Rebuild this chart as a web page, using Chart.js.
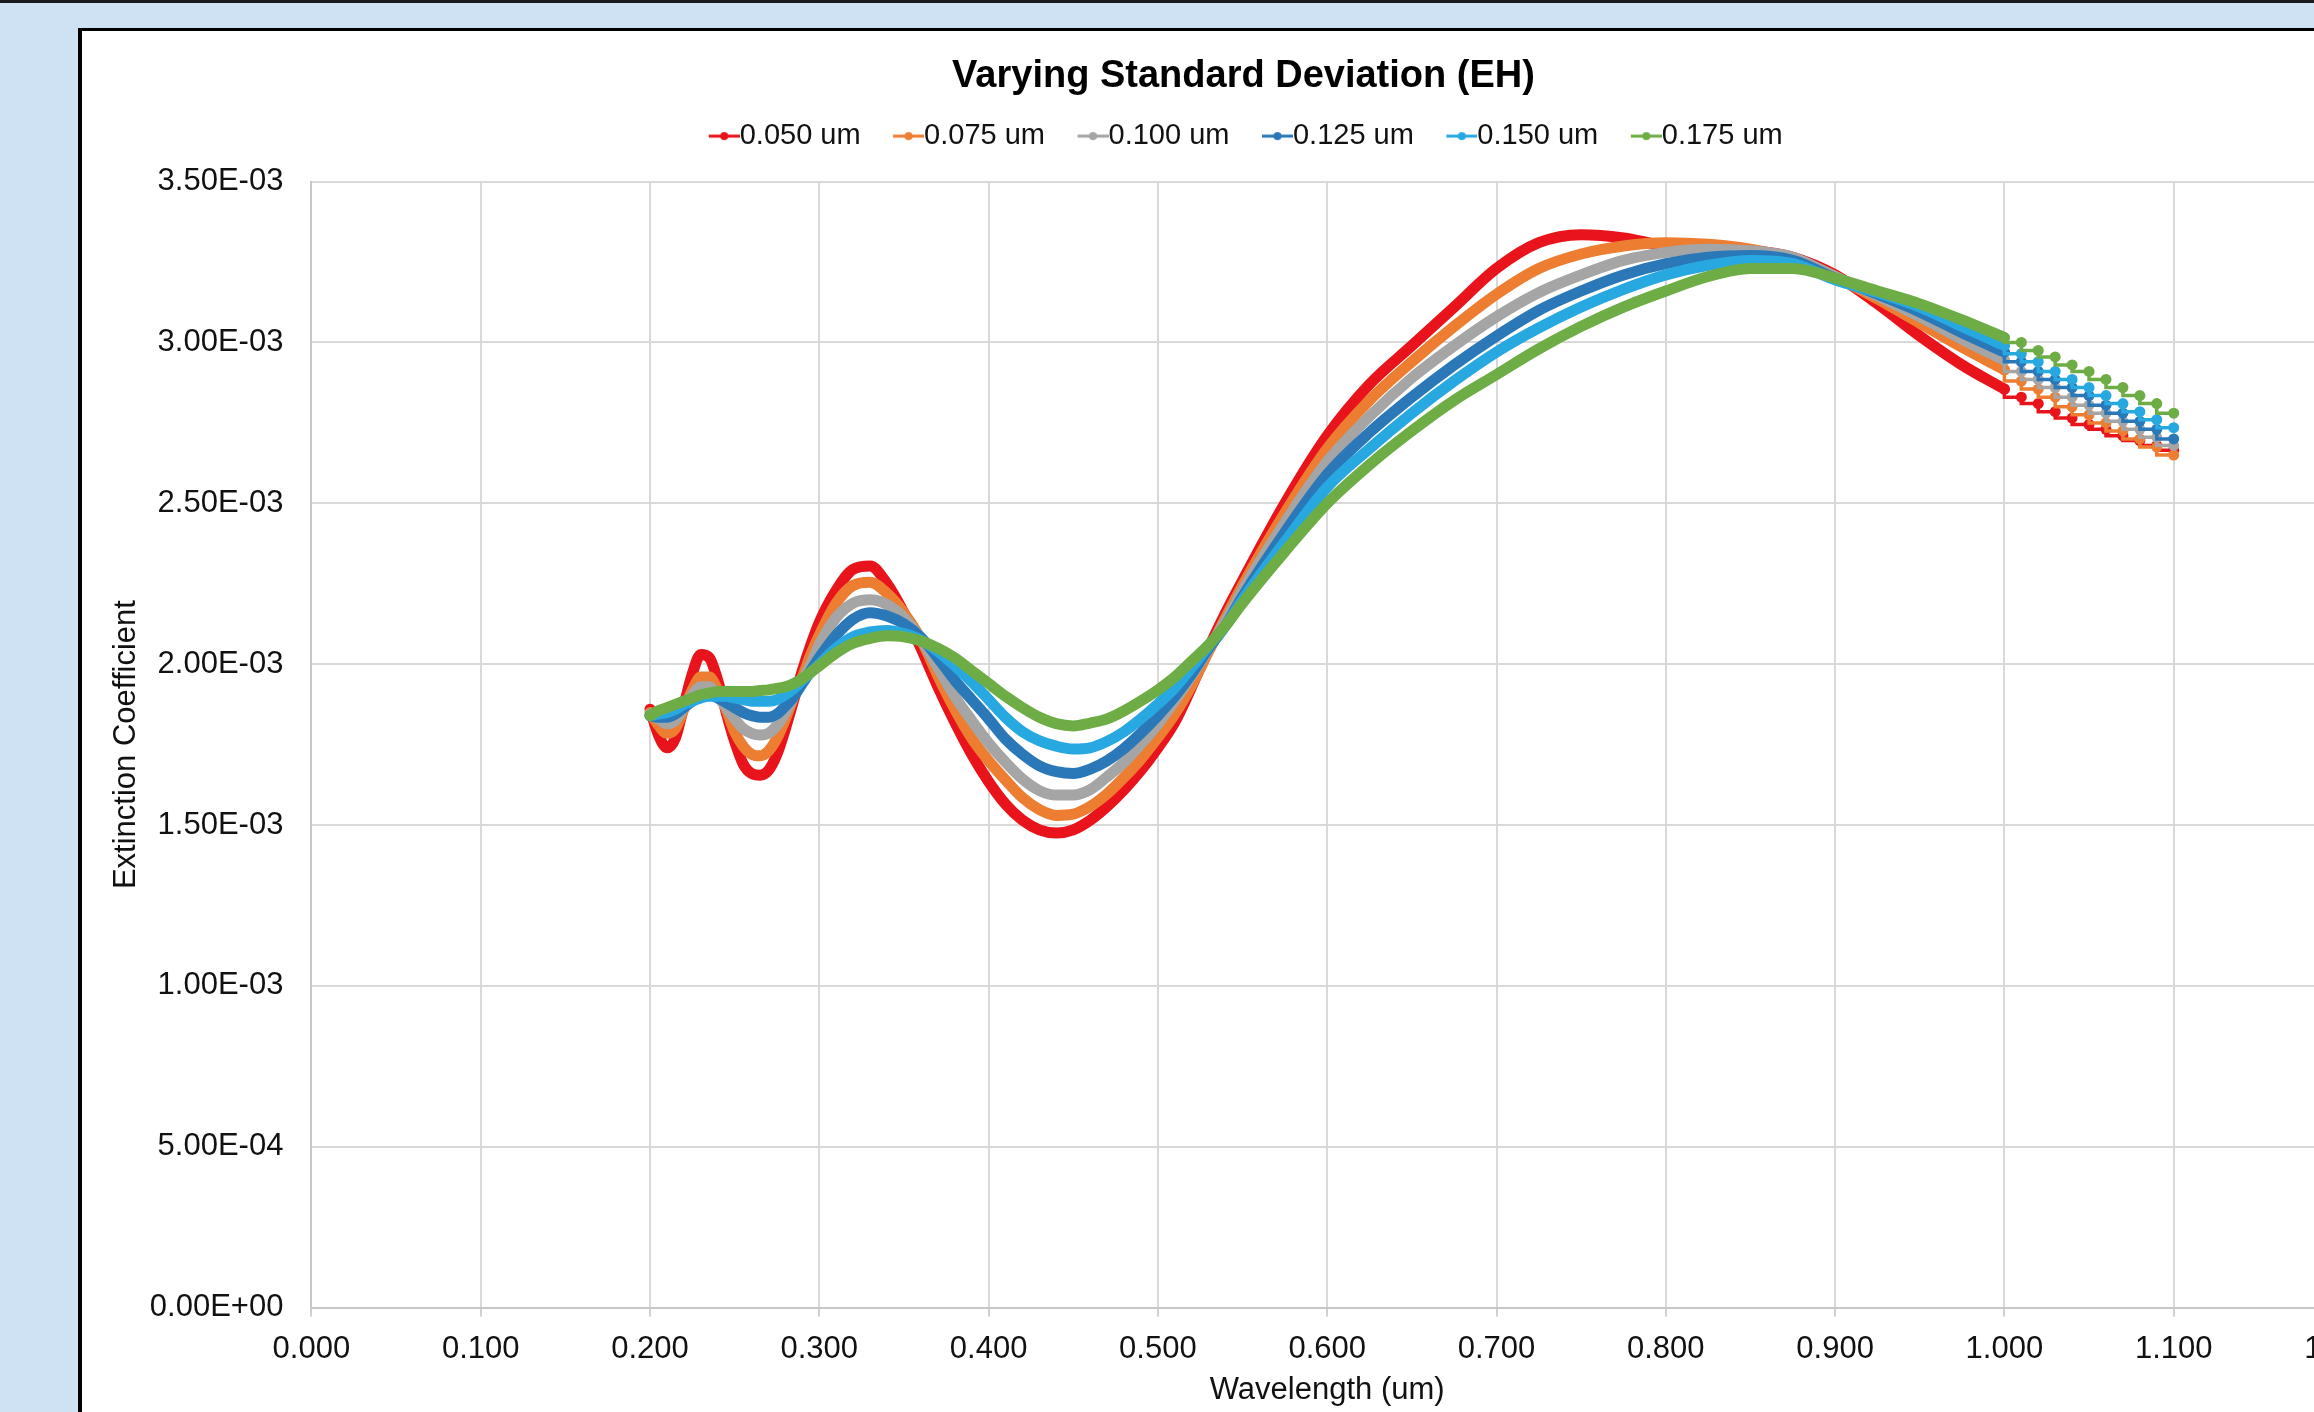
<!DOCTYPE html>
<html>
<head>
<meta charset="utf-8">
<script src="https://cdn.jsdelivr.net/npm/chart.js@4.4.1/dist/chart.umd.min.js"></script>
<style>
  html, body { margin: 0; padding: 0; overflow: hidden; background: #cfe2f3; }
  body { width: 2314px; height: 1412px; position: relative; }
  #topEdge { position: absolute; left: 0; top: 0; width: 2314px; height: 3px; background: #1a1a1a; }
  #frame { position: absolute; left: 78px; top: 28px; width: 2400px; height: 1420px;
           background: #fff; border-left: 4px solid #000; border-top: 3px solid #000; }
  #chart { position: absolute; left: 0; top: 0; }
</style>
</head>
<body>
<div id="topEdge"></div>
<div id="frame"><canvas id="chart" width="2322" height="1381"></canvas></div>
<script>
// wavelength (um) of the dense part of each curve
const wavelength = [
  0.200, 0.205, 0.210, 0.215, 0.220, 0.225, 0.230, 0.235, 0.240, 0.245,
  0.250, 0.255, 0.260, 0.265, 0.270, 0.275, 0.280, 0.285, 0.290, 0.295,
  0.300, 0.310, 0.320, 0.330, 0.340, 0.350, 0.360, 0.370, 0.380, 0.390,
  0.400, 0.410, 0.420, 0.430, 0.440, 0.450, 0.460, 0.470, 0.480, 0.490,
  0.500, 0.510, 0.520, 0.530, 0.540, 0.550, 0.575, 0.600, 0.625, 0.650,
  0.675, 0.700, 0.725, 0.750, 0.775, 0.800, 0.825, 0.850, 0.875, 0.900,
  0.925, 0.950, 0.975, 1.000
];
// coarse tail after 1.0 um
const tailWavelength = [1.00, 1.01, 1.02, 1.03, 1.04, 1.05, 1.06, 1.07, 1.08, 1.09, 1.10];

const seriesLabels = ["0.050 um", "0.075 um", "0.100 um", "0.125 um", "0.150 um", "0.175 um"];
const seriesColors = ["#E8131B", "#ED7D31", "#A5A5A5", "#2B78B8", "#27A8E0", "#6EAD45"];

// extinction coefficient, in units of 1E-03
const k050 = [
  1.86, 1.78, 1.74, 1.77, 1.87, 1.97, 2.03, 2.02, 1.95, 1.85,
  1.76, 1.69, 1.66, 1.655, 1.67, 1.72, 1.80, 1.89, 1.98, 2.06,
  2.13, 2.23, 2.295, 2.305, 2.25, 2.16, 2.05, 1.93, 1.82, 1.72,
  1.635, 1.565, 1.515, 1.485, 1.475, 1.485, 1.515, 1.558, 1.61, 1.67,
  1.74, 1.82, 1.93, 2.05, 2.16, 2.26, 2.50, 2.71, 2.87, 2.99,
  3.11, 3.23, 3.31, 3.335, 3.325, 3.30, 3.29, 3.285, 3.265, 3.21,
  3.12, 3.02, 2.93, 2.855
];
const k075 = [
  1.85, 1.81, 1.785, 1.80, 1.86, 1.92, 1.96, 1.96, 1.92, 1.86,
  1.79, 1.745, 1.72, 1.715, 1.73, 1.77, 1.83, 1.90, 1.96, 2.03,
  2.09, 2.19, 2.245, 2.255, 2.22, 2.16, 2.078, 1.964, 1.86, 1.77,
  1.70, 1.64, 1.585, 1.548, 1.53, 1.534, 1.558, 1.597, 1.648, 1.705,
  1.772, 1.845, 1.935, 2.04, 2.145, 2.245, 2.47, 2.67, 2.82, 2.94,
  3.05, 3.15, 3.23, 3.275, 3.30, 3.31, 3.305, 3.29, 3.26, 3.205,
  3.135, 3.06, 2.985, 2.915
];
const k100 = [
  1.845, 1.83, 1.815, 1.825, 1.865, 1.905, 1.93, 1.93, 1.90, 1.865,
  1.83, 1.80, 1.785, 1.78, 1.785, 1.81, 1.85, 1.90, 1.95, 2.00,
  2.06, 2.145, 2.19, 2.20, 2.185, 2.145, 2.078, 1.99, 1.90, 1.825,
  1.755, 1.695, 1.643, 1.607, 1.593, 1.593, 1.61, 1.65, 1.695, 1.752,
  1.814, 1.886, 1.964, 2.047, 2.135, 2.23, 2.44, 2.63, 2.77, 2.89,
  2.99, 3.08, 3.155, 3.21, 3.255, 3.28, 3.29, 3.285, 3.265, 3.205,
  3.145, 3.08, 3.01, 2.945
];
const k125 = [
  1.84, 1.835, 1.835, 1.845, 1.865, 1.885, 1.90, 1.905, 1.895, 1.88,
  1.865, 1.85, 1.84, 1.835, 1.835, 1.845, 1.87, 1.90, 1.94, 1.98,
  2.02, 2.09, 2.14, 2.16, 2.15, 2.125, 2.083, 2.02, 1.95, 1.89,
  1.83, 1.767, 1.72, 1.684, 1.666, 1.66, 1.674, 1.70, 1.738, 1.786,
  1.84, 1.90, 1.97, 2.05, 2.12, 2.21, 2.41, 2.59, 2.72, 2.83,
  2.93, 3.02, 3.10, 3.16, 3.21, 3.245, 3.265, 3.27, 3.255, 3.20,
  3.15, 3.095, 3.03, 2.97
];
const k150 = [
  1.84, 1.845, 1.85, 1.86, 1.875, 1.885, 1.895, 1.90, 1.90, 1.90,
  1.895, 1.89, 1.885, 1.885, 1.885, 1.89, 1.905, 1.925, 1.95, 1.975,
  2.00, 2.05, 2.085, 2.10, 2.105, 2.095, 2.075, 2.04, 1.995, 1.945,
  1.89, 1.834, 1.79, 1.762, 1.745, 1.736, 1.74, 1.76, 1.79, 1.83,
  1.876, 1.927, 1.99, 2.057, 2.12, 2.20, 2.38, 2.55, 2.67, 2.78,
  2.88, 2.97, 3.045, 3.11, 3.165, 3.21, 3.24, 3.255, 3.245, 3.195,
  3.155, 3.11, 3.05, 2.99
];
const k175 = [
  1.84, 1.855, 1.865, 1.875, 1.885, 1.895, 1.905, 1.91, 1.915, 1.915,
  1.915, 1.915, 1.915, 1.918, 1.92, 1.925, 1.93, 1.94, 1.955, 1.975,
  1.995, 2.035, 2.065, 2.08, 2.088, 2.085, 2.072, 2.05, 2.02, 1.98,
  1.94, 1.90, 1.865, 1.835, 1.815, 1.808, 1.817, 1.83, 1.855, 1.886,
  1.92, 1.96, 2.01, 2.06, 2.12, 2.19, 2.35, 2.50, 2.62, 2.725,
  2.82, 2.90, 2.98, 3.05, 3.11, 3.16, 3.205, 3.23, 3.23, 3.20,
  3.16, 3.12, 3.07, 3.015
];

const tail050 = [2.855, 2.83, 2.81, 2.785, 2.765, 2.745, 2.73, 2.71, 2.695, 2.68, 2.665];
const tail075 = [2.915, 2.88, 2.855, 2.83, 2.80, 2.775, 2.75, 2.725, 2.70, 2.675, 2.65];
const tail100 = [2.945, 2.91, 2.885, 2.86, 2.83, 2.805, 2.78, 2.755, 2.73, 2.705, 2.68];
const tail125 = [2.97, 2.94, 2.91, 2.885, 2.86, 2.835, 2.805, 2.78, 2.755, 2.73, 2.70];
const tail150 = [2.99, 2.965, 2.94, 2.91, 2.885, 2.86, 2.835, 2.81, 2.785, 2.76, 2.735];
const tail175 = [3.015, 3.0, 2.975, 2.955, 2.93, 2.91, 2.885, 2.86, 2.835, 2.81, 2.78];

const yTicks = [0, 0.5, 1.0, 1.5, 2.0, 2.5, 3.0, 3.5]; // 1E-03
const UNIT = 1e-3;

const denseSeries = [k050, k075, k100, k125, k150, k175];
const tailSeries = [tail050, tail075, tail100, tail125, tail150, tail175];

function toPoints(xs, ys) {
  return xs.map((x, i) => ({ x: x, y: ys[i] * UNIT }));
}

// Excel style scientific label: 3.50E-03
function sciLabel(v) {
  if (Math.abs(v) < 1e-12) return "0.00E+00";
  const e = Math.floor(Math.log10(Math.abs(v)) + 1e-9);
  const m = v / Math.pow(10, e);
  return m.toFixed(2) + "E" + (e < 0 ? "-" : "+") + String(Math.abs(e)).padStart(2, "0");
}

// legend sample: short line with a marker in the middle
function legendIcon(color) {
  const c = document.createElement("canvas");
  c.width = 66;
  c.height = 12;
  const g = c.getContext("2d");
  g.strokeStyle = color;
  g.lineWidth = 3;
  g.beginPath();
  g.moveTo(35, 6);
  g.lineTo(66, 6);
  g.stroke();
  g.fillStyle = color;
  g.beginPath();
  g.arc(50.5, 6, 4, 0, Math.PI * 2);
  g.fill();
  return c;
}

const datasets = [];
denseSeries.forEach((vals, i) => {
  datasets.push({
    label: seriesLabels[i],
    data: toPoints(wavelength, vals),
    borderColor: seriesColors[i],
    backgroundColor: seriesColors[i],
    borderWidth: 11,
    borderCapStyle: "round",
    borderJoinStyle: "round",
    pointRadius: 0,
    cubicInterpolationMode: "monotone",
    order: 20 - i
  });
});
tailSeries.forEach((vals, i) => {
  datasets.push({
    label: seriesLabels[i] + " tail",
    data: toPoints(tailWavelength, vals),
    borderColor: seriesColors[i],
    backgroundColor: seriesColors[i],
    borderWidth: 3.5,
    stepped: "after",
    pointRadius: 5.5,
    pointBorderWidth: 0,
    pointBackgroundColor: seriesColors[i],
    order: 10 - i
  });
});

const tickFont = { family: "'Liberation Sans', Arial, sans-serif", size: 31 };
const textColor = "#111";

new Chart(document.getElementById("chart"), {
  type: "line",
  data: { datasets: datasets },
  options: {
    responsive: false,
    animation: false,
    parsing: false,
    layout: { padding: { left: 62, right: 61, top: 0, bottom: 0 } },
    plugins: {
      title: {
        display: true,
        text: "Varying Standard Deviation (EH)",
        color: "#000",
        font: { family: "'Liberation Sans', Arial, sans-serif", size: 38, weight: "bold" },
        padding: { top: 23, bottom: 10 }
      },
      subtitle: {
        display: true,
        text: "",
        weight: 500,
        font: { size: 10 },
        padding: { top: 0, bottom: 9 }
      },
      legend: {
        display: true,
        position: "top",
        labels: {
          usePointStyle: true,
          pointStyleWidth: 37,
          padding: 12,
          color: textColor,
          font: { family: "'Liberation Sans', Arial, sans-serif", size: 29 },
          generateLabels: () => seriesLabels.map((t, i) => ({
            // trailing spaces on the last entry nudge the centred row a little left
            text: i === seriesLabels.length - 1 ? t + "  " : t,
            pointStyle: legendIcon(seriesColors[i]),
            fillStyle: seriesColors[i],
            strokeStyle: seriesColors[i],
            lineWidth: 0,
            fontColor: textColor,
            hidden: false,
            datasetIndex: i
          }))
        }
      },
      tooltip: { enabled: false }
    },
    scales: {
      x: {
        type: "linear",
        min: 0,
        max: 1.2,
        afterFit: (s) => { s.height = 104.4; },
        ticks: {
          stepSize: 0.1,
          color: textColor,
          font: tickFont,
          padding: 14,
          maxRotation: 0,
          callback: (v) => v.toFixed(3)
        },
        grid: { color: "#d9d9d9", lineWidth: 2, tickLength: 9, tickColor: "#d0d0d0" },
        border: { color: "#c8c8c8", width: 2 },
        title: {
          display: true,
          text: "Wavelength (um)",
          color: textColor,
          font: tickFont,
          padding: { top: 0, bottom: 3 }
        }
      },
      y: {
        type: "linear",
        min: 0,
        max: 3.5 * UNIT,
        afterFit: (s) => { s.width = 167.4; },
        afterBuildTicks: (s) => { s.ticks = yTicks.map((v) => ({ value: v * UNIT })); },
        ticks: {
          color: textColor,
          font: tickFont,
          padding: 28,
          callback: (v) => sciLabel(v)
        },
        grid: { color: "#d9d9d9", lineWidth: 2, drawTicks: false },
        border: { color: "#c8c8c8", width: 2 },
        title: {
          display: true,
          text: "Extinction Coefficient",
          color: textColor,
          font: tickFont,
          padding: { top: -36.6, bottom: 0 }
        }
      }
    }
  }
});
</script>
</body>
</html>
